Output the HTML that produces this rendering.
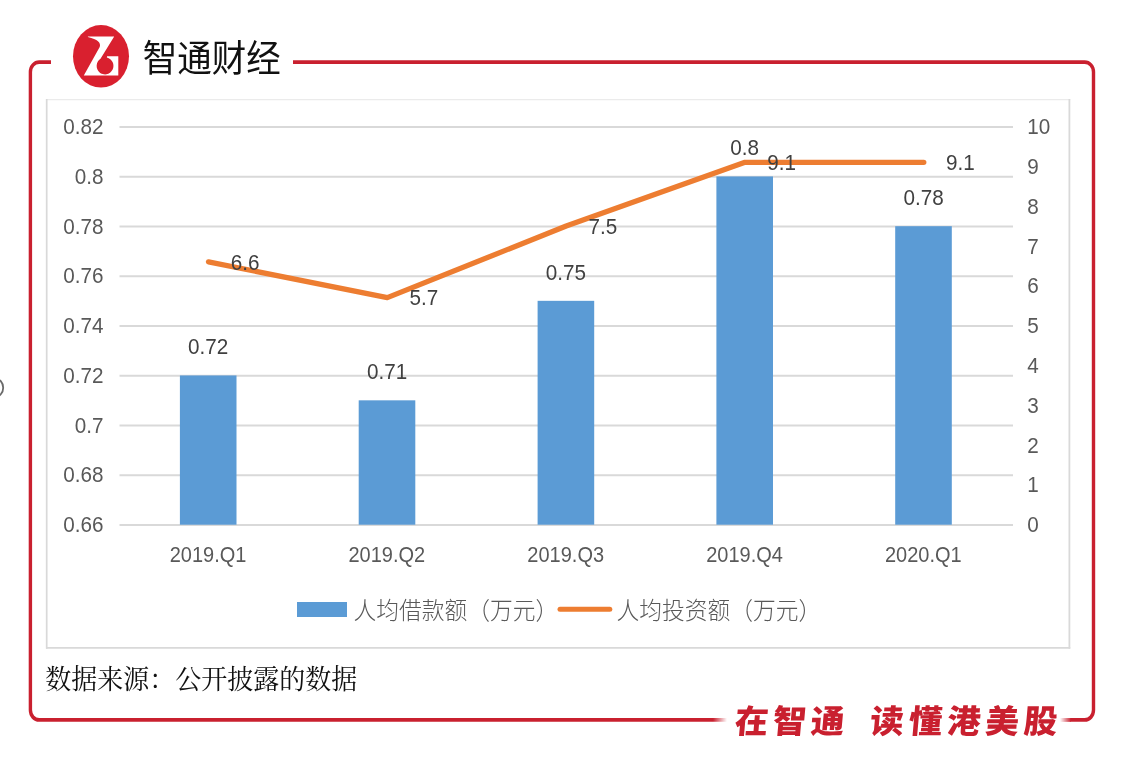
<!DOCTYPE html>
<html lang="zh-CN"><head><meta charset="utf-8"><title>智通财经</title>
<style>
html,body{margin:0;padding:0;background:#fff;}
body{width:1124px;height:760px;overflow:hidden;}
svg{display:block;}
text{font-family:"Liberation Sans","Noto Sans CJK SC",sans-serif;}
.cjk{font-family:"Liberation Sans","Noto Sans CJK SC",sans-serif;}
.serif{font-family:"Liberation Serif","Noto Serif CJK SC",serif;}
</style></head><body>
<svg width="1124" height="760" viewBox="0 0 1124 760">
<rect width="1124" height="760" fill="#fff"/>
<defs><linearGradient id="gl" gradientUnits="userSpaceOnUse" x1="713" y1="0" x2="727" y2="0"><stop offset="0" stop-color="#c9202f"/><stop offset="1" stop-color="#c9202f" stop-opacity="0"/></linearGradient><linearGradient id="gr" gradientUnits="userSpaceOnUse" x1="1060" y1="0" x2="1071" y2="0"><stop offset="0" stop-color="#c9202f" stop-opacity="0"/><stop offset="1" stop-color="#c9202f"/></linearGradient></defs>
<g fill="none" stroke-width="3.4" stroke-linecap="butt" transform="scale(1,1.12)">
<path stroke="url(#gl)" d="M51,55.446 H39.2 A8.8,8.8 0 0 0 30.4,64.246 V634.013 A8.8,8.8 0 0 0 39.2,642.812 H727"/>
<path stroke="#c9202f" d="M293,55.446 H1084.7 A8.8,8.8 0 0 1 1093.5,64.246 V634.013 A8.8,8.8 0 0 1 1084.7,642.812 H1070.5"/>
<path stroke="url(#gr)" d="M1071,642.812 H1060"/>
</g>
<ellipse cx="-5" cy="387.7" rx="8.2" ry="9.3" fill="none" stroke="#6a6a6a" stroke-width="1.8"/>
<ellipse cx="101" cy="56.3" rx="28" ry="31.3" fill="#d9202f"/>
<path d="M87.9,36.5 H114.2 L100.5,58.7 A8.4,8.55 0 1 0 106.9,57.55 L107.0,56.3 H118.3 V75.5 H83.8 L99.7,47.1 C101.3,43 97.5,39.3 87.9,37.1 Z" fill="#fff"/>
<text transform="translate(142.8,71.5) scale(0.933,1.0)" font-size="37" font-weight="400" fill="#111" class="cjk">智通财经</text>
<rect x="46" y="99" width="1024" height="549.5" fill="#fff"/>
<line x1="46" x2="1070.3" y1="99.6" y2="99.6" stroke="#ebebeb" stroke-width="1.4"/>
<line x1="46.7" x2="46.7" y1="99" y2="648.7" stroke="#d9d9d9" stroke-width="1.7"/>
<line x1="1069.4" x2="1069.4" y1="99" y2="648.7" stroke="#d9d9d9" stroke-width="1.8"/>
<line x1="46" x2="1070.3" y1="647.8" y2="647.8" stroke="#d9d9d9" stroke-width="1.8"/>
<line x1="119.5" x2="1013" y1="127.00" y2="127.00" stroke="#d9d9d9" stroke-width="1.8"/>
<line x1="119.5" x2="1013" y1="176.75" y2="176.75" stroke="#d9d9d9" stroke-width="1.8"/>
<line x1="119.5" x2="1013" y1="226.50" y2="226.50" stroke="#d9d9d9" stroke-width="1.8"/>
<line x1="119.5" x2="1013" y1="276.25" y2="276.25" stroke="#d9d9d9" stroke-width="1.8"/>
<line x1="119.5" x2="1013" y1="326.00" y2="326.00" stroke="#d9d9d9" stroke-width="1.8"/>
<line x1="119.5" x2="1013" y1="375.75" y2="375.75" stroke="#d9d9d9" stroke-width="1.8"/>
<line x1="119.5" x2="1013" y1="425.50" y2="425.50" stroke="#d9d9d9" stroke-width="1.8"/>
<line x1="119.5" x2="1013" y1="475.25" y2="475.25" stroke="#d9d9d9" stroke-width="1.8"/>
<line x1="119.5" x2="1013" y1="525.00" y2="525.00" stroke="#d9d9d9" stroke-width="1.8"/>
<text transform="translate(103.4,134.20) scale(1.035,1.1)" text-anchor="end" fill="#595959" font-size="20" >0.82</text>
<text transform="translate(103.4,183.95) scale(1.035,1.1)" text-anchor="end" fill="#595959" font-size="20" >0.8</text>
<text transform="translate(103.4,233.70) scale(1.035,1.1)" text-anchor="end" fill="#595959" font-size="20" >0.78</text>
<text transform="translate(103.4,283.45) scale(1.035,1.1)" text-anchor="end" fill="#595959" font-size="20" >0.76</text>
<text transform="translate(103.4,333.20) scale(1.035,1.1)" text-anchor="end" fill="#595959" font-size="20" >0.74</text>
<text transform="translate(103.4,382.95) scale(1.035,1.1)" text-anchor="end" fill="#595959" font-size="20" >0.72</text>
<text transform="translate(103.4,432.70) scale(1.035,1.1)" text-anchor="end" fill="#595959" font-size="20" >0.7</text>
<text transform="translate(103.4,482.45) scale(1.035,1.1)" text-anchor="end" fill="#595959" font-size="20" >0.68</text>
<text transform="translate(103.4,532.20) scale(1.035,1.1)" text-anchor="end" fill="#595959" font-size="20" >0.66</text>
<text transform="translate(1027.3,134.20) scale(1.035,1.1)" text-anchor="start" fill="#595959" font-size="20" >10</text>
<text transform="translate(1027.3,174.00) scale(1.035,1.1)" text-anchor="start" fill="#595959" font-size="20" >9</text>
<text transform="translate(1027.3,213.80) scale(1.035,1.1)" text-anchor="start" fill="#595959" font-size="20" >8</text>
<text transform="translate(1027.3,253.60) scale(1.035,1.1)" text-anchor="start" fill="#595959" font-size="20" >7</text>
<text transform="translate(1027.3,293.40) scale(1.035,1.1)" text-anchor="start" fill="#595959" font-size="20" >6</text>
<text transform="translate(1027.3,333.20) scale(1.035,1.1)" text-anchor="start" fill="#595959" font-size="20" >5</text>
<text transform="translate(1027.3,373.00) scale(1.035,1.1)" text-anchor="start" fill="#595959" font-size="20" >4</text>
<text transform="translate(1027.3,412.80) scale(1.035,1.1)" text-anchor="start" fill="#595959" font-size="20" >3</text>
<text transform="translate(1027.3,452.60) scale(1.035,1.1)" text-anchor="start" fill="#595959" font-size="20" >2</text>
<text transform="translate(1027.3,492.40) scale(1.035,1.1)" text-anchor="start" fill="#595959" font-size="20" >1</text>
<text transform="translate(1027.3,532.20) scale(1.035,1.1)" text-anchor="start" fill="#595959" font-size="20" >0</text>
<rect x="179.9" y="375.45" width="56.6" height="149.25" fill="#5b9bd5"/>
<rect x="358.7" y="400.33" width="56.6" height="124.37" fill="#5b9bd5"/>
<rect x="537.6" y="300.83" width="56.6" height="223.87" fill="#5b9bd5"/>
<rect x="716.4" y="176.45" width="56.6" height="348.25" fill="#5b9bd5"/>
<rect x="895.2" y="226.20" width="56.6" height="298.50" fill="#5b9bd5"/>
<text transform="translate(208.2,354.35) scale(1.035,1.1)" text-anchor="middle" fill="#404040" font-size="20" >0.72</text>
<text transform="translate(387.0,379.23) scale(1.035,1.1)" text-anchor="middle" fill="#404040" font-size="20" >0.71</text>
<text transform="translate(565.9,279.73) scale(1.035,1.1)" text-anchor="middle" fill="#404040" font-size="20" >0.75</text>
<text transform="translate(744.7,155.35) scale(1.035,1.1)" text-anchor="middle" fill="#404040" font-size="20" >0.8</text>
<text transform="translate(923.5,205.10) scale(1.035,1.1)" text-anchor="middle" fill="#404040" font-size="20" >0.78</text>
<polyline points="208.5,261.82 387.3,297.64 566.2,226.00 745.0,162.32 923.8,162.32" fill="none" stroke="#ed7d31" stroke-width="5.3" stroke-linecap="round" stroke-linejoin="round"/>
<text transform="translate(230.7,269.62) scale(1.035,1.1)" text-anchor="start" fill="#404040" font-size="20" >6.6</text>
<text transform="translate(409.5,305.44) scale(1.035,1.1)" text-anchor="start" fill="#404040" font-size="20" >5.7</text>
<text transform="translate(588.4,233.80) scale(1.035,1.1)" text-anchor="start" fill="#404040" font-size="20" >7.5</text>
<text transform="translate(767.2,170.12) scale(1.035,1.1)" text-anchor="start" fill="#404040" font-size="20" >9.1</text>
<text transform="translate(946.0,170.12) scale(1.035,1.1)" text-anchor="start" fill="#404040" font-size="20" >9.1</text>
<text transform="translate(208.0,561.8) scale(1.0,1.1)" text-anchor="middle" fill="#595959" font-size="20" >2019.Q1</text>
<text transform="translate(386.8,561.8) scale(1.0,1.1)" text-anchor="middle" fill="#595959" font-size="20" >2019.Q2</text>
<text transform="translate(565.7,561.8) scale(1.0,1.1)" text-anchor="middle" fill="#595959" font-size="20" >2019.Q3</text>
<text transform="translate(744.5,561.8) scale(1.0,1.1)" text-anchor="middle" fill="#595959" font-size="20" >2019.Q4</text>
<text transform="translate(923.3,561.8) scale(1.0,1.1)" text-anchor="middle" fill="#595959" font-size="20" >2020.Q1</text>
<rect x="297" y="602" width="50" height="15" fill="#5b9bd5"/>
<text transform="translate(353.4,618.5) scale(1.035,1.1)" text-anchor="start" fill="#595959" font-size="22" font-weight="300">人均借款额（万元）</text>
<line x1="560" x2="609.8" y1="609.2" y2="609.2" stroke="#ed7d31" stroke-width="5" stroke-linecap="round"/>
<text transform="translate(616.4,618.5) scale(1.035,1.1)" text-anchor="start" fill="#595959" font-size="22" font-weight="300">人均投资额（万元）</text>
<text transform="translate(45.3,689.2) scale(1,1.04)" font-size="26" fill="#111" class="serif">数据来源：公开披露的数据</text>
<text transform="translate(734,732.6) skewX(-5) scale(1.03,1.0)" font-size="32.5" font-weight="900" fill="#c9202f" class="cjk" letter-spacing="4.4">在智通<tspan dx="7.3"> </tspan><tspan letter-spacing="4.8">读懂港美股</tspan></text>
</svg></body></html>
